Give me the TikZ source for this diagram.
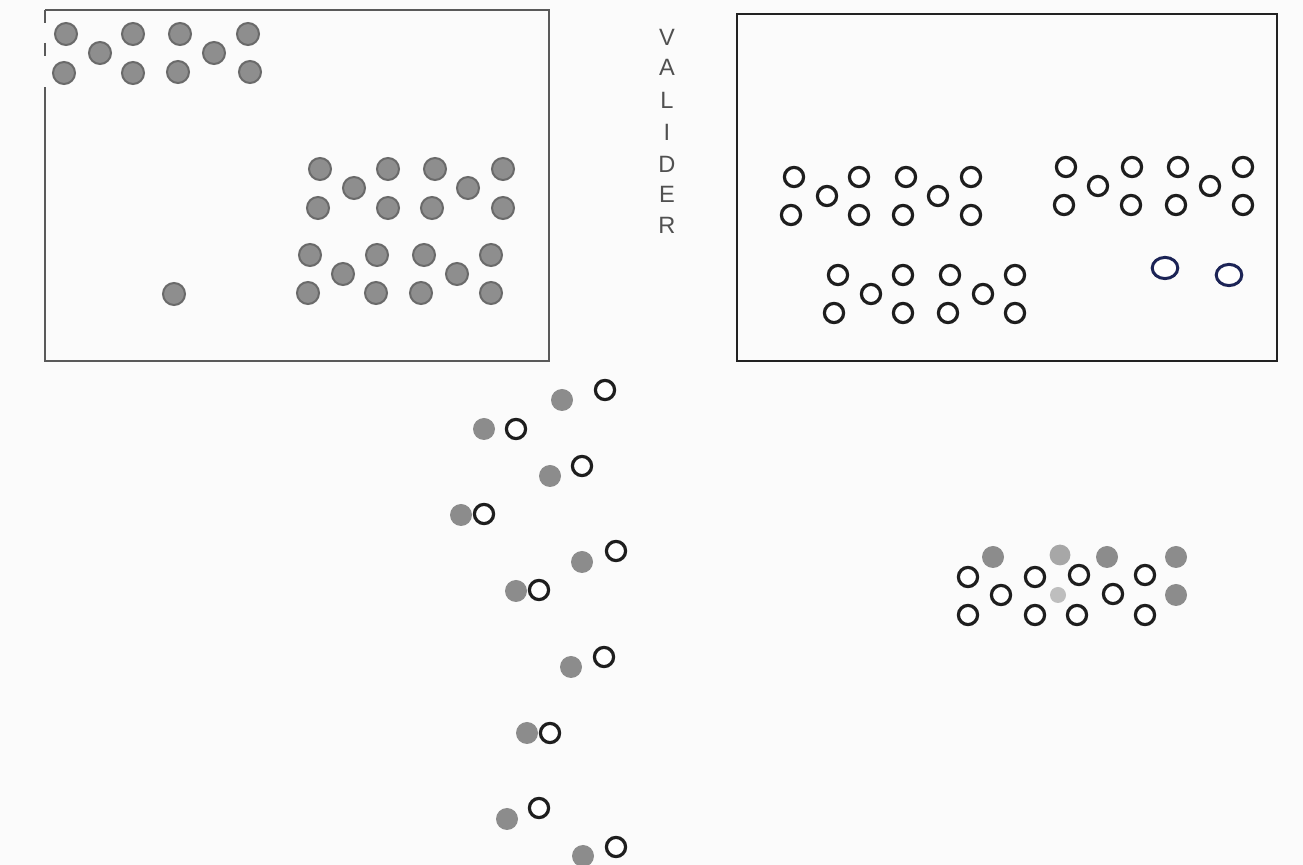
\documentclass[tikz,border=0pt]{standalone}
\usepackage{fontspec}
\setmainfont{Liberation Sans}
\definecolor{bgc}{HTML}{FBFBFB}
\definecolor{dotfill}{HTML}{8E8E8E}
\definecolor{dotedge}{HTML}{6A6A6A}
\definecolor{softdot}{HTML}{8C8C8C}
\definecolor{ringc}{HTML}{1E1E1E}
\definecolor{bluering}{HTML}{1C2456}
\definecolor{leftframe}{HTML}{5A5A5A}
\definecolor{rightframe}{HTML}{222222}
\definecolor{txt}{HTML}{505050}
\begin{document}
\begin{tikzpicture}[x=0.5pt,y=-0.5pt,
  graydot/.style={fill=dotfill,draw=dotedge,line width=1pt},
  softgray/.style={fill=softdot},
  ring/.style={draw=ringc,line width=1.6pt,fill=white},
  bring/.style={draw=bluering,line width=1.5pt,fill=white},
  letter/.style={text=txt,font=\fontsize{11.8}{12}\selectfont,inner sep=0pt}]
\useasboundingbox (0,0) rectangle (1303,865);
\fill[bgc] (0,0) rectangle (1303,865);

% left frame
\draw[leftframe,line width=1.1pt] (45,10) -- (549,10) -- (549,361) -- (45,361) -- (45,87);
\draw[leftframe,line width=1.1pt] (45,10) -- (45,23);
\draw[leftframe,line width=1.1pt] (45,43) -- (45,56);
% right frame
\draw[rightframe,line width=1.3pt] (737,14) rectangle (1277,361);

% top-left cluster
\foreach \x/\y in {66/34,133/34,180/34,248/34,100/53,214/53,64/73,133/73,178/72,250/72}
  \draw[graydot] (\x,\y) circle[radius=5.5pt];
% clusters in left frame
\foreach \x/\y in {320/169,388/169,435/169,503/169,354/188,468/188,318/208,388/208,432/208,503/208}
  \draw[graydot] (\x,\y) circle[radius=5.5pt];
\foreach \x/\y in {310/255,377/255,424/255,491/255,343/274,457/274,308/293,376/293,421/293,491/293}
  \draw[graydot] (\x,\y) circle[radius=5.5pt];
\draw[graydot] (174,294) circle[radius=5.5pt];

% VALIDER
\node[letter] (l1) at (667,37) {V};
\node[letter] (l2) at (667,67) {A};
\node[letter] (l3) at (667,100) {L};
\node[letter] (l4) at (667,132) {I};
\node[letter] (l5) at (667,164) {D};
\node[letter] (l6) at (667,194) {E};
\node[letter] (l7) at (667,225) {R};

% right frame rings
\foreach \x/\y in {794/177,859/177,906/177,971/177,827/196,938/196,791/215,859/215,903/215,971/215}
  \draw[ring] (\x,\y) circle[radius=4.8pt];
\foreach \x/\y in {1066/167,1132/167,1178/167,1243/167,1098/186,1210/186,1064/205,1131/205,1176/205,1243/205}
  \draw[ring] (\x,\y) circle[radius=4.8pt];
\foreach \x/\y in {838/275,903/275,950/275,1015/275,871/294,983/294,834/313,903/313,948/313,1015/313}
  \draw[ring] (\x,\y) circle[radius=4.8pt];
\draw[bring] (1165,268) ellipse[x radius=6.4pt,y radius=5.3pt];
\draw[bring] (1229,275) ellipse[x radius=6.4pt,y radius=5.3pt];

% bottom pairs
\foreach \gx/\gy/\wx/\wy in {562/400/605/390,484/429/516/429,550/476/582/466,461/515/484/514,582/562/616/551,516/591/539/590,571/667/604/657,527/733/550/733,507/819/539/808,583/856/616/847}{
  \fill[softgray] (\gx,\gy) circle[radius=5.5pt];
  \draw[ring] (\wx,\wy) circle[radius=4.8pt];
}

% bottom-right cluster
\foreach \x/\y in {993/557,1107/557,1176/557,1176/595}
  \fill[softgray] (\x,\y) circle[radius=5.5pt];
\fill[softgray,opacity=0.75] (1060,555) circle[radius=5.2pt];
\fill[softgray,opacity=0.55] (1058,595) circle[radius=4pt];
\foreach \x/\y in {968/577,1035/577,1079/575,1145/575,1001/595,1113/594,968/615,1035/615,1077/615,1145/615}
  \draw[ring] (\x,\y) circle[radius=4.8pt];
\end{tikzpicture}
\end{document}
